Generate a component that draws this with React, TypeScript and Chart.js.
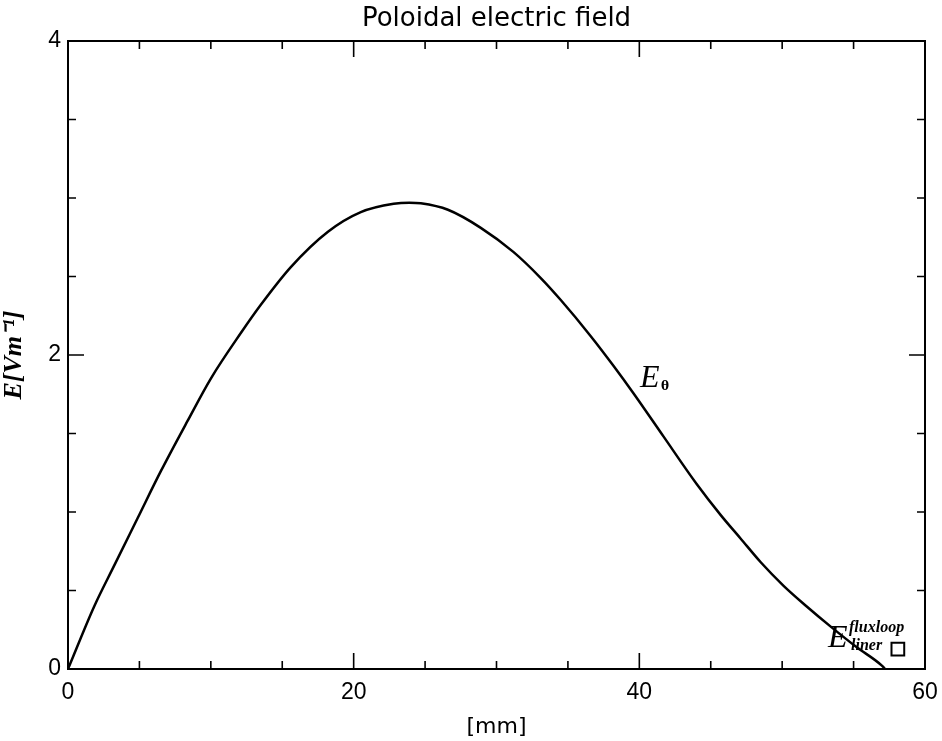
import React, { useEffect, useRef } from "react";
import { Chart, registerables } from "chart.js";

Chart.register(...registerables);

// ---- data ----
const positionsMm = [
  0, 1.84, 3.24, 4.87, 6.5, 8.37, 10.0, 12.1, 13.5, 15.6, 18.2, 20.5, 22.8, 23.9,
  24.7, 26.6, 28.9, 31.2, 33.1, 34.5, 36.6, 38.2, 39.6, 41.7, 44.0, 45.7, 47.1,
  48.5, 50.1, 51.7, 53.4, 55.2, 57.0, 57.2,
];
const fieldValues = [
  0, 0.4, 0.66, 0.96, 1.26, 1.58, 1.85, 2.14, 2.32, 2.56, 2.785, 2.91, 2.963, 2.97,
  2.966, 2.925, 2.81, 2.655, 2.49, 2.35, 2.12, 1.93, 1.755, 1.48, 1.18, 0.98, 0.83,
  0.68, 0.53, 0.4, 0.27, 0.14, 0.02, 0,
];
const fluxloopX = [58.1];
const fluxloopY = [0.127];

const xTickValues = [0, 20, 40, 60];
const yTickValues = [0, 2, 4];
const xMinorStep = 5;
const yMinorStep = 0.5;

const titleText = "Poloidal electric field";
const xTitle = "[mm]";
const yTitle = "E[Vm\u207B\u00B9]";

// annotation anchors in data coordinates
const thetaLabelAt = { x: 40.05, y: 1.796 };
const fluxLabelAt = { x: 53.21, y: 0.14 };

const framePlugin = {
  id: "frame",
  afterDatasetsDraw(chart: any) {
    const { ctx, chartArea, scales } = chart;
    const { left, right, top, bottom } = chartArea;
    const xs = scales.x;
    const ys = scales.y;
    ctx.save();
    ctx.strokeStyle = "#000";
    ctx.lineWidth = 2;
    ctx.strokeRect(left, top, right - left, bottom - top);
    ctx.lineWidth = 1.6;
    ctx.beginPath();
    for (let v = xs.min; v <= xs.max + 1e-9; v += xMinorStep) {
      const px = xs.getPixelForValue(v);
      const major = xTickValues.includes(Math.round(v));
      const len = major ? 16 : 8;
      ctx.moveTo(px, bottom);
      ctx.lineTo(px, bottom - len);
      ctx.moveTo(px, top);
      ctx.lineTo(px, top + len);
    }
    for (let v = ys.min; v <= ys.max + 1e-9; v += yMinorStep) {
      const py = ys.getPixelForValue(v);
      const major = yTickValues.some((t) => Math.abs(t - v) < 1e-6);
      const len = major ? 16 : 8;
      ctx.moveTo(left, py);
      ctx.lineTo(left + len, py);
      ctx.moveTo(right, py);
      ctx.lineTo(right - len, py);
    }
    ctx.stroke();

    // E_theta label
    ctx.fillStyle = "#000";
    ctx.textBaseline = "alphabetic";
    ctx.textAlign = "left";
    let ax = xs.getPixelForValue(thetaLabelAt.x);
    let ay = ys.getPixelForValue(thetaLabelAt.y);
    ctx.font = "italic 32px 'Liberation Serif'";
    ctx.fillText("E", ax, ay);
    ctx.font = "bold 12px 'DejaVu Serif'";
    ctx.fillText("\u03B8", ax + 21, ay + 3);

    // E fluxloop / liner label
    ax = xs.getPixelForValue(fluxLabelAt.x);
    ay = ys.getPixelForValue(fluxLabelAt.y);
    ctx.font = "italic 32px 'Liberation Serif'";
    ctx.fillText("E", ax, ay);
    ctx.font = "bold italic 16px 'Liberation Serif'";
    ctx.fillText("fluxloop", ax + 21, ay - 15);
    ctx.fillText("liner", ax + 23, ay + 3);
    ctx.restore();
  },
};

export default function App() {
  const canvasRef = useRef<HTMLCanvasElement | null>(null);

  useEffect(() => {
    if (!canvasRef.current) return;
    const chart = new Chart(canvasRef.current, {
      type: "line",
      data: {
        datasets: [
          {
            label: "E_theta",
            data: positionsMm.map((x, i) => ({ x, y: fieldValues[i] })),
            borderColor: "#000",
            borderWidth: 2.5,
            pointRadius: 0,
            cubicInterpolationMode: "monotone",
            fill: false,
          },
          {
            label: "fluxloop",
            type: "scatter",
            data: fluxloopX.map((x, i) => ({ x, y: fluxloopY[i] })),
            pointStyle: "rect",
            pointRadius: 9,
            borderColor: "#000",
            borderWidth: 2,
            backgroundColor: "rgba(0,0,0,0)",
            showLine: false,
          } as any,
        ],
      },
      options: {
        animation: false,
        responsive: true,
        maintainAspectRatio: false,
        layout: { padding: { left: 0, right: 17, top: 0, bottom: 0 } },
        plugins: {
          legend: { display: false },
          tooltip: { enabled: false },
          title: {
            display: true,
            text: titleText,
            fullSize: false,
            color: "#000",
            font: { family: "'DejaVu Sans'", size: 26, weight: "normal", lineHeight: 1 },
            padding: { top: 6.5, bottom: 8.5 },
          },
        },
        scales: {
          x: {
            type: "linear",
            min: 0,
            max: 60,
            grid: { display: false, drawTicks: false },
            border: { display: false },
            ticks: {
              stepSize: 20,
              color: "#000",
              padding: 10,
              maxRotation: 0,
              font: { family: "'Liberation Sans'", size: 23 },
              callback: (v: any) => (xTickValues.includes(Number(v)) ? String(v) : ""),
            },
            title: {
              display: true,
              text: xTitle,
              color: "#000",
              font: { family: "'DejaVu Sans'", size: 22, lineHeight: 1 },
              padding: { top: 0, bottom: 3 },
            },
            afterFit: (s: any) => {
              s.height = 72;
              s.paddingLeft = 0;
              s.paddingRight = 0;
            },
          },
          y: {
            type: "linear",
            min: 0,
            max: 4,
            grid: { display: false, drawTicks: false },
            border: { display: false },
            ticks: {
              stepSize: 2,
              color: "#000",
              padding: 7,
              font: { family: "'Liberation Sans'", size: 23 },
              callback: (v: any) => (yTickValues.includes(Number(v)) ? String(v) : ""),
            },
            title: {
              display: true,
              text: yTitle,
              color: "#000",
              font: { family: "'Liberation Serif'", size: 26, style: "italic", weight: "bold", lineHeight: 1 },
              padding: { top: 1, bottom: 0 },
            },
            afterFit: (s: any) => {
              s.width = 68;
              s.paddingTop = 0;
              s.paddingBottom = 0;
            },
          },
        },
      },
      plugins: [framePlugin],
    });
    return () => chart.destroy();
  }, []);

  return (
    <div style={{ position: "absolute", left: 0, top: 0, width: "942px", height: "741px" }}>
      <canvas ref={canvasRef} />
    </div>
  );
}
